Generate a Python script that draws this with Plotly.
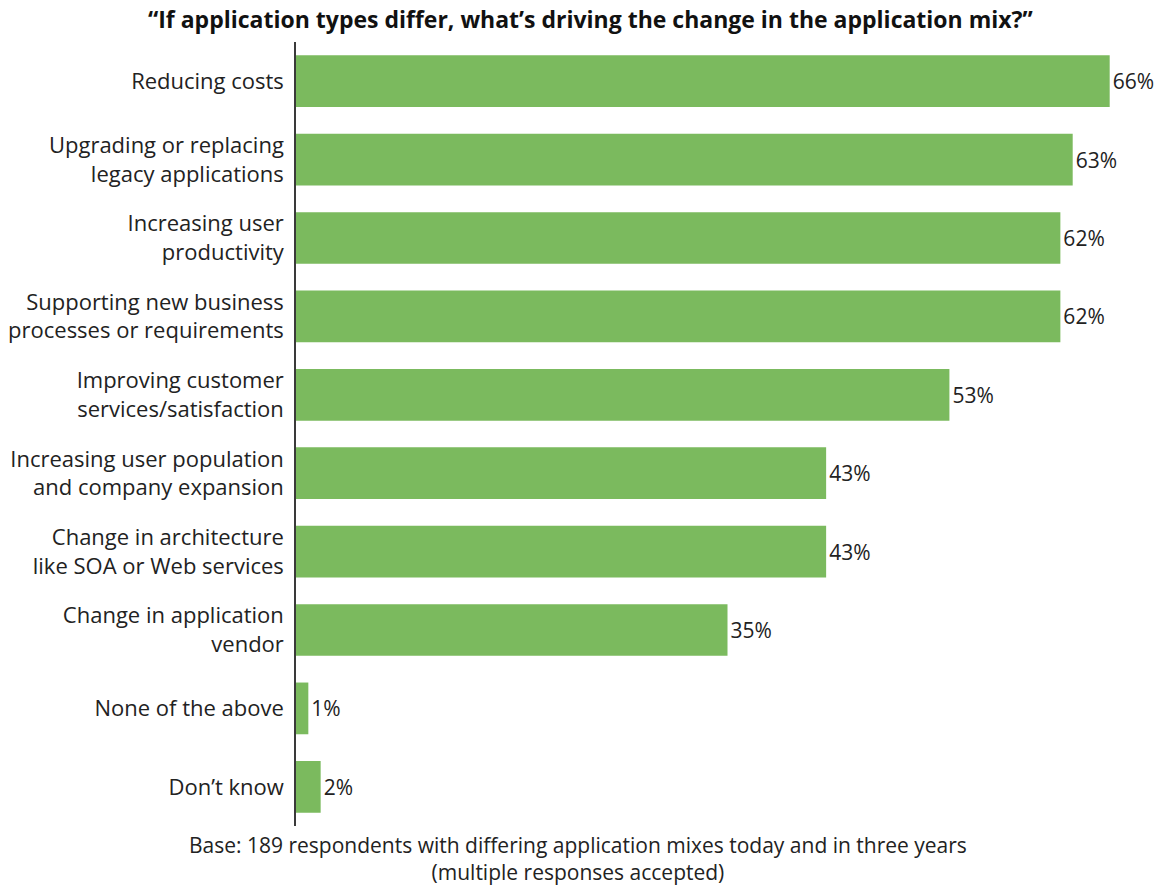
import plotly.graph_objects as go

# Survey drivers and share of respondents (%)
drivers = [
    "Reducing costs",
    "Upgrading or replacing<br>legacy applications",
    "Increasing user<br>productivity",
    "Supporting new business<br>processes or requirements",
    "Improving customer<br>services/satisfaction",
    "Increasing user population<br>and company expansion",
    "Change in architecture<br>like SOA or Web services",
    "Change in application<br>vendor",
    "None of the above",
    "Don\u2019t know",
]
shares = [66, 63, 62, 62, 53, 43, 43, 35, 1, 2]

title_text = "\u201cIf application types differ, what\u2019s driving the change in the application mix?\u201d"
base_note = ("Base: 189 respondents with differing application mixes today and in three years"
             "<br>(multiple responses accepted)")

FONT = "Open Sans"
TEXT = "#222222"
BAR = "#7bba5e"

PLOT_L, PLOT_R, PLOT_T, PLOT_B = 296, 6, 42, 60
PLOT_W = 1165 - PLOT_L - PLOT_R
PLOT_H = 886 - PLOT_T - PLOT_B


def page_x(px):
    """Convert a page x position to plot-area paper coordinates."""
    return (px - PLOT_L) / PLOT_W


def page_y(py):
    """Convert a page y position to plot-area paper coordinates."""
    return 1 - (py - PLOT_T) / PLOT_H


fig = go.Figure(
    go.Bar(
        x=shares,
        y=drivers,
        orientation="h",
        marker=dict(color=BAR, line=dict(width=0)),
        text=[f"{v}%" for v in shares],
        textposition="outside",
        cliponaxis=False,
        textfont=dict(family=FONT, size=21, color=TEXT),
    )
)

fig.update_layout(
    width=1165,
    height=886,
    paper_bgcolor="white",
    plot_bgcolor="white",
    margin=dict(l=PLOT_L, r=PLOT_R, t=PLOT_T, b=PLOT_B),
    bargap=0.34,
    showlegend=False,
    font=dict(family=FONT, size=22, color=TEXT),
    xaxis=dict(range=[0, 70], visible=False, fixedrange=True),
    yaxis=dict(
        autorange="reversed",
        showline=True,
        linecolor="#3a3a3a",
        linewidth=1.5,
        showgrid=False,
        zeroline=False,
        ticks="",
        ticklabelstandoff=6,
        tickfont=dict(family=FONT, size=22, color=TEXT),
    ),
    annotations=[
        dict(
            text=f"<b>{title_text}</b>",
            x=page_x(590), y=page_y(19), xref="paper", yref="paper",
            xanchor="center", yanchor="middle",
            showarrow=False,
            font=dict(family=FONT, size=23, color="#111111"),
        ),
        dict(
            text=base_note,
            x=page_x(578), y=page_y(858), xref="paper", yref="paper",
            xanchor="center", yanchor="middle",
            showarrow=False,
            font=dict(family=FONT, size=21, color=TEXT),
        ),
    ],
)

fig.write_html("out.html")
